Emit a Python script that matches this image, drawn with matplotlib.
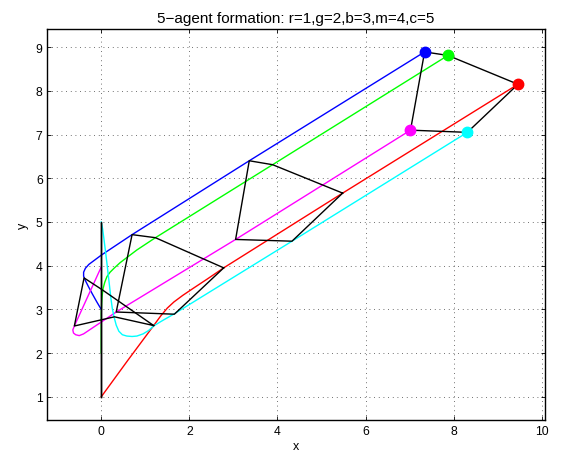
import matplotlib
matplotlib.use("Agg")
import matplotlib.pyplot as plt

plt.rcParams['font.family'] = ['Liberation Sans', 'DejaVu Sans']

# Agent trajectories
red_x = [0.00, 0.60, 1.19, 1.35, 1.50, 1.65, 1.85, 2.10, 2.40, 2.78, 5.48, 9.46]
red_y = [1.00, 1.83, 2.63, 2.85, 3.03, 3.17, 3.32, 3.49, 3.69, 3.95, 5.66, 8.15]

green_x = [0.00, 0.00, 0.01, 0.02, 0.04, 0.08, 0.13, 0.20, 0.30, 0.43, 0.60, 0.81, 1.23, 3.89, 7.87]
green_y = [2.00, 2.90, 3.15, 3.30, 3.47, 3.62, 3.75, 3.85, 3.95, 4.07, 4.20, 4.36, 4.64, 6.31, 8.81]

blue_x = [0.00, -0.10, -0.20, -0.29, -0.36, -0.40, -0.40, -0.36, -0.28, -0.16, 0.00, 0.70, 3.36, 7.34]
blue_y = [3.00, 3.17, 3.35, 3.52, 3.66, 3.76, 3.85, 3.94, 4.03, 4.12, 4.24, 4.71, 6.40, 8.89]

mag_x = [0.00, -0.61, -0.645, -0.63, -0.58, -0.50, -0.40, 0.34, 3.05, 7.02]
mag_y = [3.97, 2.62, 2.53, 2.46, 2.42, 2.40, 2.44, 2.94, 4.60, 7.10]

cyan_x = [0.00, 0.03, 0.06, 0.10, 0.13, 0.16, 0.19, 0.22, 0.25, 0.29, 0.34, 0.40, 0.48,
          0.58, 0.70, 0.81, 0.95, 1.08, 1.19, 1.35, 1.66, 4.33, 8.31]
cyan_y = [5.00, 4.85, 4.62, 4.30, 4.05, 3.78, 3.52, 3.25, 3.03, 2.83, 2.64, 2.50, 2.42,
          2.39, 2.38, 2.39, 2.44, 2.52, 2.62, 2.72, 2.90, 4.56, 7.05]

# Formation snapshots: vertices in order red, green, blue, magenta, cyan
snap0_x = [0.00, 0.00, 0.00, 0.00, 0.00]
snap0_y = [1.00, 2.00, 3.00, 4.00, 5.00]
snap1_x = [1.19, 0.02, -0.39, -0.61, 0.30]
snap1_y = [2.63, 3.45, 3.72, 2.62, 2.83]
snap2_x = [2.78, 1.23, 0.70, 0.34, 1.66]
snap2_y = [3.95, 4.64, 4.71, 2.94, 2.89]
snap3_x = [5.48, 3.89, 3.36, 3.05, 4.33]
snap3_y = [5.66, 6.31, 6.40, 4.60, 4.56]
snap4_x = [9.46, 7.87, 7.34, 7.02, 8.31]
snap4_y = [8.15, 8.81, 8.89, 7.10, 7.05]

colors = ['#ff0000', '#00ff00', '#0000ff', '#ff00ff', '#00ffff']

fig = plt.figure(figsize=(5.62, 4.56), dpi=100)
ax = fig.add_axes([0.0845, 0.0768, 0.885, 0.857])

trajs = [(red_x, red_y), (green_x, green_y), (blue_x, blue_y), (mag_x, mag_y), (cyan_x, cyan_y)]
for (tx, ty), c in zip(trajs, colors):
    ax.plot(tx, ty, color=c, lw=1.0, zorder=2)

for sx, sy in [(snap0_x, snap0_y), (snap1_x, snap1_y), (snap2_x, snap2_y),
               (snap3_x, snap3_y), (snap4_x, snap4_y)]:
    ax.plot(sx + [sx[0]], sy + [sy[0]], color='black', lw=1.0, zorder=3)

for i, c in enumerate(colors):
    ax.plot(snap4_x[i], snap4_y[i], 'o', color=c, markersize=7.5, mec=c, zorder=4)

ax.set_xlim(-1.22, 10.07)
ax.set_ylim(0.47, 9.41)
ax.set_xticks([0, 2, 4, 6, 8, 10])
ax.set_yticks([1, 2, 3, 4, 5, 6, 7, 8, 9])
ax.grid(True, color='black', linestyle=(0, (1, 4.6)), linewidth=0.6, alpha=0.75)
ax.tick_params(direction='in', top=True, right=True, labelsize=8.7, length=3, width=0.6)
for s in ax.spines.values():
    s.set_linewidth(1.0)
ax.set_xlabel('x', fontsize=9, labelpad=2)
ax.set_ylabel('y', fontsize=9, labelpad=5)
ax.set_title('5\u2212agent formation: r=1,g=2,b=3,m=4,c=5', fontsize=11, pad=5)

fig.savefig('out.png', dpi=100)
